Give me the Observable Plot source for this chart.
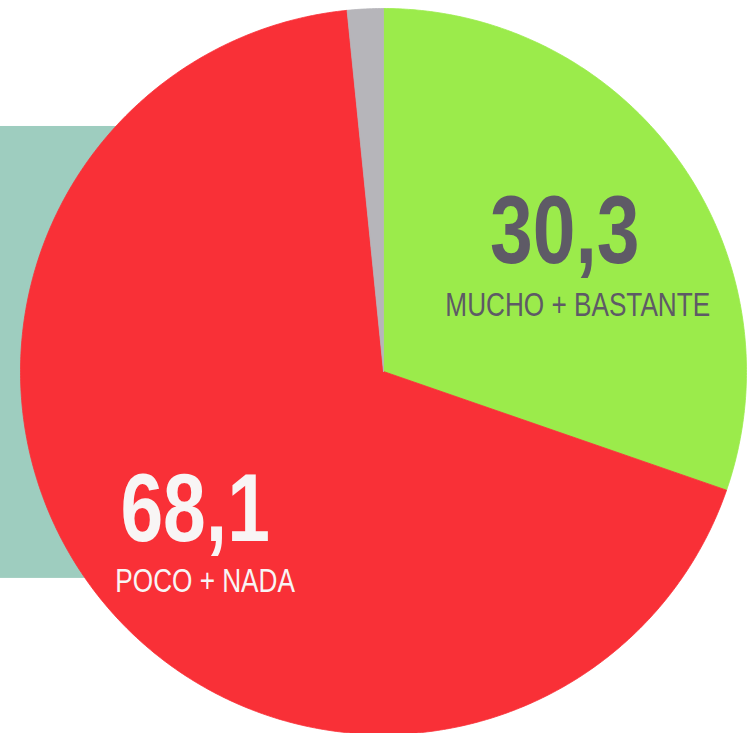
<!DOCTYPE html>
<html>
<head>
<meta charset="utf-8">
<script src="https://cdn.jsdelivr.net/npm/d3@7"></script>
<script src="https://cdn.jsdelivr.net/npm/@observablehq/plot@0.6"></script>
<style>
  html, body { margin: 0; padding: 0; background: #ffffff; }
  #chart { width: 747px; height: 733px; overflow: hidden; }
  svg { display: block; }
</style>
</head>
<body>
<div id="chart"></div>
<script>
// Data (clockwise from 12 o'clock)
const categories = ["MUCHO + BASTANTE", "POCO + NADA", "NS/NC"];
const values = [30.3, 68.1, 1.6];
const valueLabels = ["30,3", "68,1", ""];
const colors = ["#9beb4b", "#f93037", "#b6b5ba"];
const textColors = ["#5e5a66", "#f8f5f5", "#5e5a66"];

// Decorative backdrop panel (data units of the pie frame)
const backdrop = [{x1: -1.06, x2: -0.6, y1: -0.57, y2: 0.675}];

const total = d3.sum(values);
const slices = [];
let acc = 0;
values.forEach((v, i) => {
  const a0 = acc / total * 2 * Math.PI;
  acc += v;
  const a1 = acc / total * 2 * Math.PI;
  slices.push({i, a0, a1, mid: (a0 + a1) / 2});
});

// polygon points for each slice (unit circle, clockwise from top)
const pts = [];
slices.forEach(s => {
  pts.push({k: s.i, x: 0, y: 0});
  const n = Math.max(4, Math.ceil((s.a1 - s.a0) / (Math.PI / 360)));
  for (let j = 0; j <= n; j++) {
    const a = s.a0 + (s.a1 - s.a0) * j / n;
    pts.push({k: s.i, x: Math.sin(a), y: Math.cos(a)});
  }
  pts.push({k: s.i, x: 0, y: 0});
});

const labelR = 0.63;
const labels = slices.filter(s => valueLabels[s.i] !== "").map(s => ({
  i: s.i,
  x: labelR * Math.sin(s.mid),
  y: labelR * Math.cos(s.mid),
  value: valueLabels[s.i],
  name: categories[s.i]
}));

// condensed look: squeeze each text horizontally around its anchor
function condense(k) {
  return (index, scales, values, dims, ctx, next) => {
    const g = next(index, scales, values, dims, ctx);
    d3.select(g).selectAll("text").attr("transform", function() {
      return (this.getAttribute("transform") || "") + ` scale(${k},1)`;
    });
    return g;
  };
}

const font = "'Liberation Sans', Arial, sans-serif";
// per-slice label offsets (pixels) relative to the slice centroid
const numOffset = {0: [-5, -7], 1: [-9, -3]};
const nameOffset = {0: [8, 66], 1: [1, 68]};

const textMarks = [];
labels.forEach(l => {
  textMarks.push(Plot.text([l], {x: "x", y: "y", text: "value", fill: textColors[l.i],
    fontFamily: font, fontWeight: "bold", fontSize: 96, textAnchor: "middle",
    dx: numOffset[l.i][0], dy: numOffset[l.i][1], render: condense(0.8)}));
  textMarks.push(Plot.text([l], {x: "x", y: "y", text: "name", fill: textColors[l.i],
    fontFamily: font, fontSize: 34, textAnchor: "middle",
    dx: nameOffset[l.i][0], dy: nameOffset[l.i][1], render: condense(0.77)}));
});

const chart = Plot.plot({
  width: 747,
  height: 733,
  margin: 0,
  x: {domain: [-1, 1], range: [20, 746], axis: null},
  y: {domain: [-1, 1], range: [734, 8], axis: null},
  style: {background: "#ffffff"},
  marks: [
    Plot.rect(backdrop, {x1: "x1", x2: "x2", y1: "y1", y2: "y2", fill: "#9ecdbf"}),
    Plot.line(pts, {x: "x", y: "y", z: "k", fill: d => colors[d.k], stroke: d => colors[d.k], strokeWidth: 0.8, curve: "linear"}),
    ...textMarks
  ]
});
document.getElementById("chart").appendChild(chart);
</script>
</body>
</html>
